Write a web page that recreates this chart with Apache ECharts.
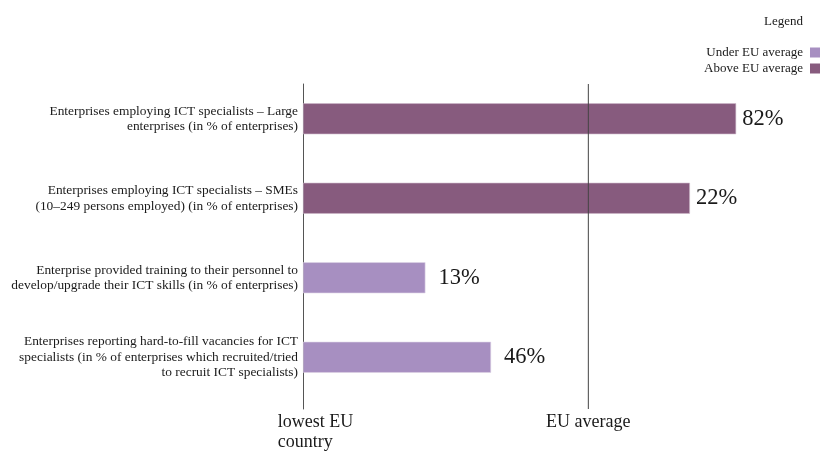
<!DOCTYPE html>
<html>
<head>
<meta charset="utf-8">
<script src="https://cdn.jsdelivr.net/npm/echarts@6/dist/echarts.min.js"></script>
<style>
  html, body { margin: 0; padding: 0; background: #fff; }
  #chart { width: 823px; height: 452px; }
</style>
</head>
<body>
<div id="chart"></div>
<script>
// Indicators, top to bottom
const indicators = [
  'Enterprises employing ICT specialists – Large\nenterprises (in % of enterprises)',
  'Enterprises employing ICT specialists – SMEs\n(10–249 persons employed) (in % of enterprises)',
  'Enterprise provided training to their personnel to\ndevelop/upgrade their ICT skills (in % of enterprises)',
  'Enterprises reporting hard-to-fill vacancies for ICT\nspecialists (in % of enterprises which recruited/tried\nto recruit ICT specialists)'
];
// Position on the scale where 0 = lowest EU country and 100 = EU average
const relativePosition = [151.8, 135.6, 42.9, 65.9];
// Indicator value shown next to each bar
const shareValues = [82, 22, 13, 46];
const seriesNames = ['Under EU average', 'Above EU average'];
const scaleLabels = { 0: 'lowest EU\ncountry', 100: 'EU average' };

const EU_AVG = 100;
const SCALE_MAX = 180;
const FONT = '"Liberation Serif", "DejaVu Serif", serif';
const TEXT = '#1a1a1a';
const LIGHT = '#a78fc1';
const DARK = '#875b7e';

function split(above) {
  return relativePosition.map((v, i) => {
    const isAbove = v >= EU_AVG;
    return isAbove === above ? { value: v, share: shareValues[i] } : '-';
  });
}

const labelCfg = (distance) => ({
  show: true,
  position: 'right',
  distance: distance,
  fontFamily: FONT,
  fontSize: 22.5,
  color: TEXT,
  formatter: p => p.data.share + '%'
});

const chart = echarts.init(document.getElementById('chart'), null, { renderer: 'canvas' });
chart.setOption({
  animation: false,
  backgroundColor: '#fff',
  title: {
    text: 'Legend',
    right: 15,
    top: 10,
    textStyle: { fontFamily: FONT, fontSize: 13, fontWeight: 'normal', color: TEXT }
  },
  legend: {
    data: seriesNames,
    orient: 'vertical',
    right: 3,
    top: 46,
    padding: 0,
    align: 'right',
    itemWidth: 10,
    itemHeight: 10,
    itemGap: 3,
    icon: 'rect',
    itemStyle: { borderWidth: 0 },
    textStyle: { fontFamily: FONT, fontSize: 13, color: TEXT, padding: [0, 2, 0, 0] }
  },
  grid: [
    { left: 303, width: 513.6, top: 79, height: 318 },
    { left: 303, width: 513.6, top: 84, height: 331 }
  ],
  xAxis: [
    { gridIndex: 0, type: 'value', min: 0, max: SCALE_MAX, show: false },
    {
      gridIndex: 1, type: 'value', min: 0, max: SCALE_MAX, interval: 100,
      axisLine: { show: false }, axisTick: { show: false }, splitLine: { show: false },
      axisLabel: {
        show: true,
        margin: 3,
        verticalAlign: 'top',
        showMaxLabel: false,
        fontFamily: FONT,
        fontSize: 18,
        lineHeight: 20,
        color: TEXT,
        formatter: v => {
          if (v === 0) return '{low|' + scaleLabels[0] + '}';
          return scaleLabels[v] || '';
        },
        rich: {
          low: { fontFamily: FONT, fontSize: 18, lineHeight: 20, color: TEXT, align: 'left', padding: [0, 0, 0, 25] }
        }
      }
    }
  ],
  yAxis: [
    {
      gridIndex: 0, type: 'category', data: indicators, inverse: true,
      axisLine: { show: false }, axisTick: { show: false }, splitLine: { show: false },
      axisLabel: {
        margin: 5,
        fontFamily: FONT,
        fontSize: 13.4,
        lineHeight: 15.5,
        padding: [4, 0, 0, 0],
        color: TEXT,
        align: 'right'
      }
    },
    {
      gridIndex: 1, type: 'value', min: 0, max: 1,
      axisLine: { show: true, onZero: false, lineStyle: { color: '#555', width: 1 } },
      axisTick: { show: false }, axisLabel: { show: false }, splitLine: { show: false }
    }
  ],
  series: [
    {
      name: seriesNames[0], type: 'bar', stack: 'pos',
      xAxisIndex: 0, yAxisIndex: 0,
      barWidth: 31,
      itemStyle: { color: LIGHT, borderColor: '#ddd3e6', borderWidth: 0.6 },
      label: labelCfg(13),
      data: split(false)
    },
    {
      name: seriesNames[1], type: 'bar', stack: 'pos',
      xAxisIndex: 0, yAxisIndex: 0,
      barWidth: 31,
      itemStyle: { color: DARK, borderColor: '#cdb9c9', borderWidth: 0.6 },
      label: labelCfg(6),
      data: split(true)
    },
    {
      name: 'EU average', type: 'line',
      xAxisIndex: 1, yAxisIndex: 1,
      showSymbol: false, silent: true, z: 5,
      lineStyle: { color: '#444', width: 1 },
      data: [[EU_AVG, 0], [EU_AVG, 1]]
    }
  ]
});
</script>
</body>
</html>
